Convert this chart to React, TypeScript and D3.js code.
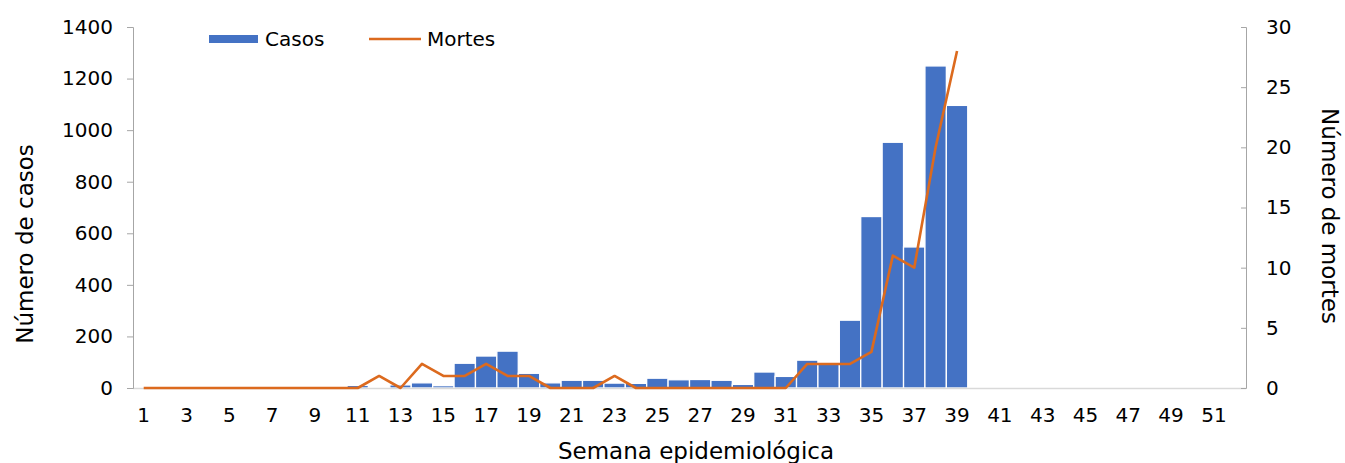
import { useRef, useEffect } from 'react'
import * as d3 from 'd3';

// semanas epidemiológicas 1..52
const weeks = d3.range(1, 53);

// casos por semana (semanas 1..39, resto sem dados)
const casos = [
    0, 0, 0, 0, 0, 0, 0, 0, 0, 0,
    10, 3, 12, 20, 9, 96, 124, 143, 57, 20,
    30, 30, 19, 18, 38, 32, 33, 30, 14, 62,
    45, 108, 95, 263, 665, 953, 547, 1249, 1096
];

// mortes por semana (semanas 1..39)
const mortes = [
    0, 0, 0, 0, 0, 0, 0, 0, 0, 0,
    0, 1, 0, 2, 1, 1, 2, 1, 1, 0,
    0, 0, 1, 0, 0, 0, 0, 0, 0, 0,
    0, 2, 2, 2, 3, 11, 10, 20, 28
];

const leftTicks = [0, 200, 400, 600, 800, 1000, 1200, 1400];
const rightTicks = [0, 5, 10, 15, 20, 25, 30];
const xTickLabels = weeks.filter(w => w % 2 === 1);

const BLUE = "#4472C4";
const ORANGE = "#DC6A1E";
const FONT = "'DejaVu Sans', Verdana, sans-serif";

function App() {

    const d3Container = useRef(null);

    const width = 1345;
    const height = 463;

    useEffect(() => {

        const marginTop = 27;
        const marginBottom = 75;
        const marginLeft = 133;
        const marginRight = 99;

        const svg = d3.select(d3Container.current);
        svg.selectAll("*").remove();

        const x = d3.scaleBand()
                    .domain(weeks)
                    .range([marginLeft, width - marginRight])
                    .padding(0);

        const yLeft = d3.scaleLinear()
                        .domain([0, 1400])
                        .range([height - marginBottom, marginTop]);

        const yRight = d3.scaleLinear()
                         .domain([0, 30])
                         .range([height - marginBottom, marginTop]);

        // bars
        svg.append("g")
           .selectAll()
           .data(casos)
           .join("rect")
           .attr("x", (d, i) => x(weeks[i]))
           .attr("width", x.bandwidth())
           .attr("y", d => yLeft(d))
           .attr("height", d => yLeft(0) - yLeft(d))
           .attr("fill", BLUE)
           .attr("stroke", "#ffffff")
           .attr("stroke-width", 1.3);

        // x baseline
        svg.append("line")
           .attr("x1", marginLeft)
           .attr("x2", width - marginRight)
           .attr("y1", yLeft(0) + 0.5)
           .attr("y2", yLeft(0) + 0.5)
           .attr("stroke", "#D9D9D9")
           .attr("stroke-width", 1.5);

        // mortes line
        const line = d3.line()
                       .x((d, i) => x(weeks[i]) + x.bandwidth() / 2)
                       .y(d => yRight(d));

        svg.append("path")
           .datum(mortes)
           .attr("d", line)
           .attr("fill", "none")
           .attr("stroke", ORANGE)
           .attr("stroke-width", 2.6)
           .attr("stroke-linejoin", "round");

        // left axis
        const gl = svg.append("g")
           .attr("transform", `translate(${marginLeft},0)`)
           .call(d3.axisLeft(yLeft).tickValues(leftTicks).tickSize(6).tickPadding(14).tickFormat(d => d));
        gl.selectAll("path, line").attr("stroke", "#A6A6A6");
        gl.selectAll("text").attr("font-family", FONT).attr("font-size", 20).attr("fill", "#000");

        // right axis (ticks inward)
        const gr = svg.append("g")
           .attr("transform", `translate(${width - marginRight},0)`)
           .call(d3.axisRight(yRight).tickValues(rightTicks).tickSizeInner(-5).tickSizeOuter(-5).tickPadding(20));
        gr.selectAll("path, line").attr("stroke", "#A6A6A6");
        gr.selectAll("text").attr("font-family", FONT).attr("font-size", 20).attr("fill", "#000");

        // x tick labels
        svg.append("g")
           .selectAll()
           .data(xTickLabels)
           .join("text")
           .attr("x", d => x(d) + x.bandwidth() / 2)
           .attr("y", height - marginBottom + 34)
           .attr("text-anchor", "middle")
           .attr("font-family", FONT)
           .attr("font-size", 20)
           .text(d => d);

        // axis titles
        svg.append("text")
           .attr("x", 696)
           .attr("y", 459)
           .attr("text-anchor", "middle")
           .attr("font-family", FONT)
           .attr("font-size", 23)
           .text("Semana epidemiológica");

        svg.append("text")
           .attr("transform", `translate(33,244) rotate(-90)`)
           .attr("text-anchor", "middle")
           .attr("font-family", FONT)
           .attr("font-size", 23)
           .text("Número de casos");

        svg.append("text")
           .attr("transform", `translate(1322,216) rotate(90)`)
           .attr("text-anchor", "middle")
           .attr("font-family", FONT)
           .attr("font-size", 23)
           .text("Número de mortes");

        // legend
        const legend = svg.append("g");
        legend.append("rect")
              .attr("x", 209).attr("y", 35)
              .attr("width", 49).attr("height", 8)
              .attr("fill", BLUE);
        legend.append("text")
              .attr("x", 265).attr("y", 46)
              .attr("font-family", FONT).attr("font-size", 20)
              .text("Casos");
        legend.append("line")
              .attr("x1", 369).attr("x2", 421)
              .attr("y1", 39).attr("y2", 39)
              .attr("stroke", ORANGE).attr("stroke-width", 2.6);
        legend.append("text")
              .attr("x", 427).attr("y", 46)
              .attr("font-family", FONT).attr("font-size", 20)
              .text("Mortes");
    }, []);

    return (
        <>
            <svg width={width}
                 height={height}
                 style={{ position: "absolute", left: 0, top: 0, background: "#fff" }}
                 ref={d3Container} />
        </>
    )
}

export default App;
